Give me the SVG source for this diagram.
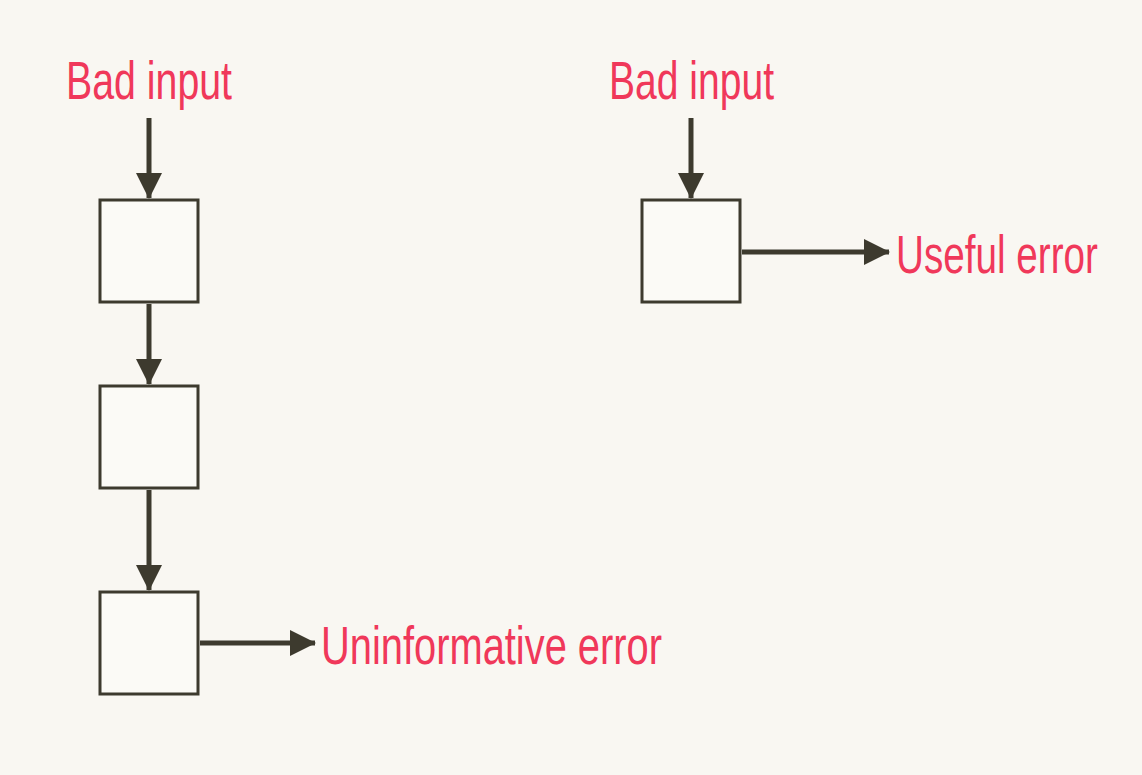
<svg xmlns="http://www.w3.org/2000/svg" width="1142" height="775" viewBox="0 0 1142 775">
<defs>
<marker id="ah" markerUnits="userSpaceOnUse" markerWidth="26" markerHeight="26" viewBox="0 0 26 26" refX="25" refY="13" orient="auto">
<path d="M0,0 L26,13 L0,26 Z" fill="#3d3a2e"/>
</marker>
</defs>
<style>
.box{fill:#fbfaf6;stroke:#3d3a2e;stroke-width:3}
.edge{stroke:#3d3a2e;stroke-width:5;fill:none;marker-end:url(#ah)}
.lbl{fill:#f0385a;font-family:"Liberation Sans Narrow","Liberation Sans",Arial,sans-serif;font-size:54px}
</style>
<rect width="1142" height="775" fill="#f9f7f2"/>
<g id="labels">
<text class="lbl" x="66" y="99" textLength="166" lengthAdjust="spacingAndGlyphs">Bad input</text>
<text class="lbl" x="609" y="99" textLength="165" lengthAdjust="spacingAndGlyphs">Bad input</text>
<text class="lbl" x="896" y="273" textLength="202" lengthAdjust="spacingAndGlyphs">Useful error</text>
<text class="lbl" x="321" y="664" textLength="341" lengthAdjust="spacingAndGlyphs">Uninformative error</text>
</g>
<g id="box1"><rect class="box" x="100" y="200" width="98" height="102"/></g>
<g id="box2"><rect class="box" x="100" y="386" width="98" height="102"/></g>
<g id="box3"><rect class="box" x="100" y="592" width="98" height="102"/></g>
<g id="box4"><rect class="box" x="642" y="200" width="98" height="102"/></g>
<g id="connectors">
<line class="edge" x1="149" y1="118" x2="149" y2="198"/>
<line class="edge" x1="149" y1="304" x2="149" y2="384"/>
<line class="edge" x1="149" y1="490" x2="149" y2="590"/>
<line class="edge" x1="200" y1="643" x2="315" y2="643"/>
<line class="edge" x1="691" y1="118" x2="691" y2="198"/>
<line class="edge" x1="742" y1="252" x2="889" y2="252"/>
</g>
</svg>
